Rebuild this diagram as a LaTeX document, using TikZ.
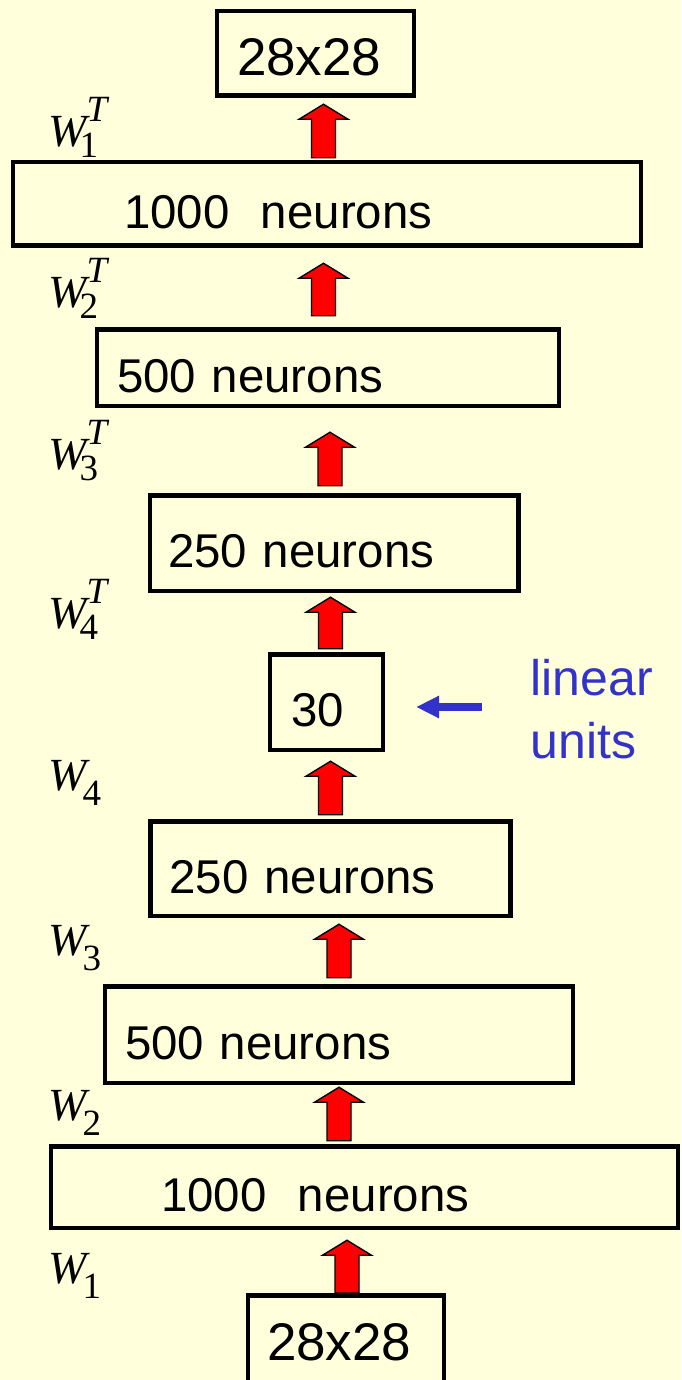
\documentclass[tikz,border=0pt]{standalone}
\usepackage{fontspec}
\setmainfont{Liberation Sans}
\newfontfamily\wfont{Liberation Serif}
\usetikzlibrary{calc, arrows.meta}

\definecolor{bgcol}{RGB}{255,255,220}
\definecolor{linblue}{RGB}{51,51,204}

\newcommand{\wbig}{\wfont\fontsize{23}{23}\selectfont}
\newcommand{\wsmall}{\wfont\fontsize{18.5}{18.5}\selectfont}
\newcommand{\wT}[1]{{\wbig\itshape W}\rlap{\kern-3.5pt\raisebox{-5.5pt}{\wsmall #1}}\raisebox{12.5pt}{\wsmall\itshape T}}
\newcommand{\wN}[1]{{\wbig\itshape W}\kern-2pt\raisebox{-7.5pt}{\wsmall #1}}

\tikzset{
  layer/.style={draw, line width=2.25pt, align=left, inner ysep=0pt,
    text height=24.9pt, text depth=0pt, font=\fontsize{23.7}{28}\selectfont},
  pixel/.style={layer, text height=22pt, font=\fontsize{26.5}{30}\selectfont},
  blockarr/.style={draw=black, line width=0.7pt, fill=red, to path={
    let \p1=(\tikztostart), \p2=(\tikztotarget) in
    (\x1-6pt,\y1) -- (\x1-6pt,\y2-7.5pt) -- (\x1-12.25pt,\y2-7.5pt) -- (\x1,\y2)
    -- (\x1+12.25pt,\y2-7.5pt) -- (\x1+6pt,\y2-7.5pt) -- (\x1+6pt,\y1) -- cycle}},
  bluearr/.style={draw=linblue, line width=4pt, -{Triangle[length=11.5pt,width=10.5pt]}},
  wlab/.style={anchor=base west, inner sep=0pt}
}

\begin{document}
\begin{tikzpicture}[x=0.5pt, y=-0.5pt]
\useasboundingbox (0,0) rectangle (681,1380);
\clip (0,0) rectangle (681,1380);
\fill[bgcol] (0,0) rectangle (681,1380);

% layers, top to bottom
\node[pixel, text width=78.5pt, inner xsep=9.9pt, minimum height=42.25pt] (out) at (315.5,53.5) {28x28};
\node[layer, text width=203pt, inner xsep=55.4pt, minimum height=41.75pt] (h1T) at (327,204) {1000\ \ neurons};
\node[layer, text width=211pt, inner xsep=9.9pt, minimum height=38.25pt] (h2T) at (328,367.5) {500 neurons};
\node[layer, text width=166.25pt, inner xsep=9.1pt, minimum height=47.75pt] (h3T) at (334.25,543) {250 neurons};
\node[layer, text width=35.5pt, inner xsep=10.4pt, minimum height=47.75pt] (code) at (326.5,702) {30};
\node[layer, text width=161pt, inner xsep=9.6pt, minimum height=47.25pt] (h3) at (330.5,868.5) {250 neurons};
\node[layer, text width=214pt, inner xsep=9.9pt, minimum height=48.25pt] (h2) at (339,1034.5) {500 neurons};
\node[layer, text width=203.5pt, inner xsep=54.9pt, minimum height=40.75pt] (h1) at (364.5,1187) {1000\ \ neurons};
\node[pixel, text width=79pt, inner xsep=9.4pt, minimum height=43.25pt] (in) at (346,1338.5) {28x28};

% red arrows
\draw[blockarr] ([shift={(-3.5,-2.25)}]h1T.north) to ([shift={(0,6.25)}]out.south);
\draw[blockarr] ([shift={(-4.5,-11.25)}]h2T.north) to ([shift={(0,15.25)}]h1T.south);
\draw[blockarr] ([shift={(-4.25,-7.25)}]h3T.north) to ([shift={(0,24.25)}]h2T.south);
\draw[blockarr] ([shift={(4,-3.25)}]code.north) to ([shift={(0,4.25)}]h3T.south);
\draw[blockarr] ([shift={(0,-4.25)}]h3.north) to ([shift={(0,9.25)}]code.south);
\draw[blockarr] ([shift={(0,-6.25)}]h2.north) to ([shift={(0,6.25)}]h3.south);
\draw[blockarr] ([shift={(-25.5,-3.25)}]h1.north) to ([shift={(0,2.25)}]h2.south);
\draw[blockarr] ([shift={(1,0)}]in.north) to ([shift={(0,10.25)}]h1.south);

% weights
\node[wlab] (w1t) at (48,147) {\wT{1}};
\node[wlab] (w2t) at (48,307) {\wT{2}};
\node[wlab] (w3t) at (48,469) {\wT{3}};
\node[wlab] (w4t) at (48,628) {\wT{4}};
\node[wlab] (w4) at (48,790) {\wN{4}};
\node[wlab] (w3) at (48,955) {\wN{3}};
\node[wlab] (w2) at (48,1120) {\wN{2}};
\node[wlab] (w1) at (48,1283) {\wN{1}};

% code layer note
\node[font=\fontsize{25}{31.5}\selectfont, text=linblue, align=left, anchor=base west, inner sep=0pt] (lin) at (530,758) {linear\\units};
\coordinate (ltail) at (482,707);
\draw[bluearr] (ltail) -- ([shift={(31,5)}]code.east);
\end{tikzpicture}
\end{document}
